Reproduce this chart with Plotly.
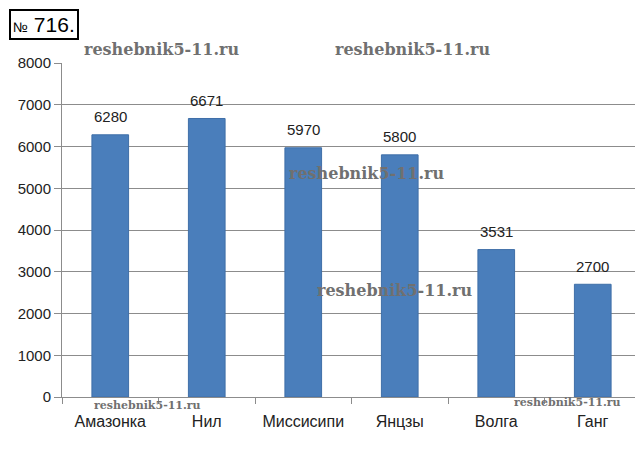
import plotly.graph_objects as go

rivers = ["Амазонка", "Нил", "Миссисипи", "Янцзы", "Волга", "Ганг"]
lengths = [6280, 6671, 5970, 5800, 3531, 2700]
y_ticks = [0, 1000, 2000, 3000, 4000, 5000, 6000, 7000, 8000]

# The page body has an 8px default margin, so the figure is sized/offset for it.
OFF = 8
W, H = 643 - OFF, 469 - OFF
L, T, R, B = 62 - OFF, 63 - OFF, 2, 72
PW, PH = W - L - R, H - T - B

fig = go.Figure()
fig.add_trace(go.Bar(
    x=rivers, y=lengths,
    marker=dict(color="#4a7ebb", line=dict(color="#3f6fa8", width=1)),
    width=0.38,
))
for r, v in zip(rivers, lengths):
    fig.add_annotation(
        x=r, y=v, yshift=18, text=str(v), showarrow=False,
        font=dict(family="Liberation Sans, Arial", size=15, color="#222"),
    )

fig.update_layout(
    width=W, height=H,
    margin=dict(l=L, r=R, t=T, b=B, autoexpand=False),
    paper_bgcolor="white", plot_bgcolor="white",
    showlegend=False,
    font=dict(family="Liberation Sans, Arial", size=15, color="#222"),
)
fig.update_yaxes(
    range=[0, 8000], tickvals=y_ticks, ticktext=[str(v) for v in y_ticks],
    showgrid=True, gridcolor="#8c8c8c", gridwidth=1,
    showline=True, linecolor="#8c8c8c", linewidth=1,
    ticks="outside", ticklen=7, tickcolor="#8c8c8c",
    tickfont=dict(size=15, color="#222"), zeroline=False, automargin=False,
)
fig.update_xaxes(
    showline=True, linecolor="#8c8c8c", linewidth=1,
    ticks="outside", tickson="boundaries", ticklen=6, tickcolor="#8c8c8c",
    tickfont=dict(size=16, color="#222"), automargin=False,
    ticklabelstandoff=10,
)

# Title box
fig.add_annotation(
    xref="paper", yref="paper", x=-(L - 1) / PW, y=1 + (T - 1) / PH, xanchor="left", yanchor="top",
    text="<span style='font-size:14px'>№</span> 716.", showarrow=False,
    font=dict(family="Liberation Sans", size=21, color="black"),
    bordercolor="black", borderwidth=2, borderpad=2, bgcolor="white",
)

# Watermarks (page pixel positions)
wm = [(82, 49, 16), (333, 49, 16), (287, 173, 16), (315, 290, 16), (92, 405, 11), (512, 402, 11)]
for px, py, sz in wm:
    fig.add_annotation(
        xref="paper", yref="paper",
        x=(px - 62) / PW, y=1 - (py - 63) / PH,
        xanchor="left", yanchor="middle",
        text="<b>reshebnik5-11.ru</b>", showarrow=False,
        font=dict(family="DejaVu Serif", size=sz, color="#707070"),
    )

fig.write_html("out.html")
